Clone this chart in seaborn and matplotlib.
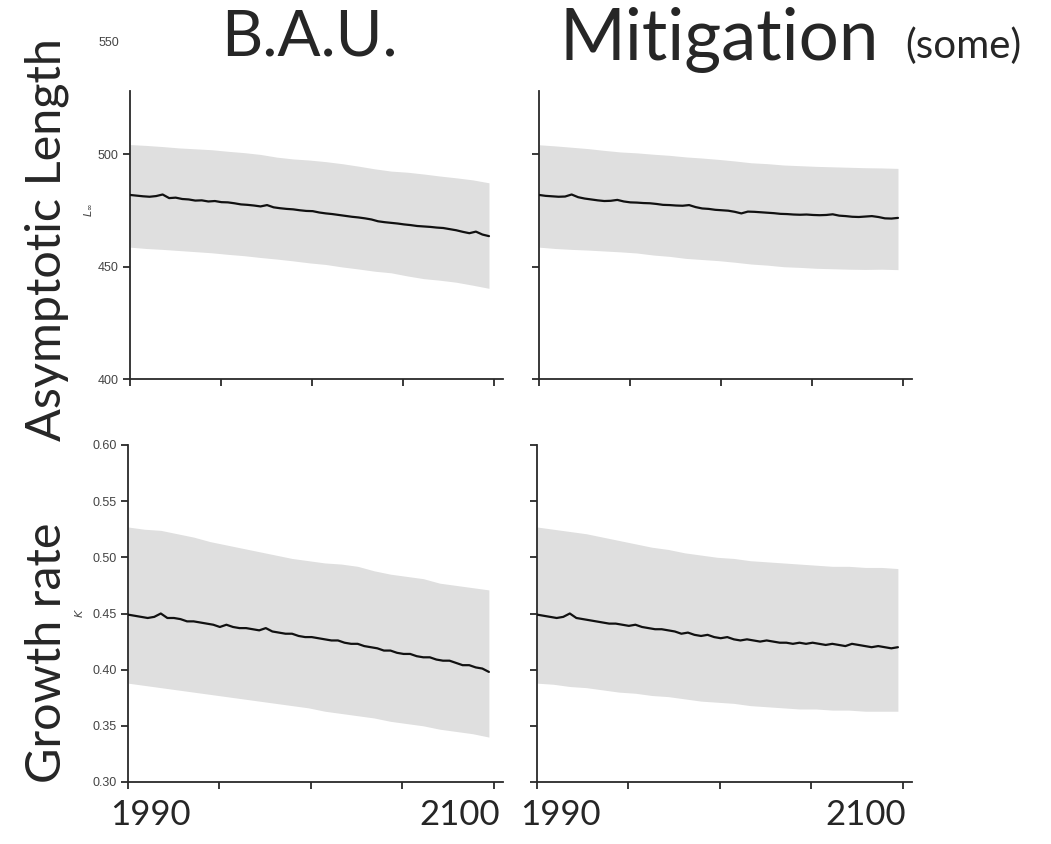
import numpy as np
import pandas as pd
import matplotlib
matplotlib.use("Agg")
import matplotlib.pyplot as plt
import seaborn as sns

sns.set_theme(style="ticks")
plt.rcParams["font.family"] = ["Liberation Sans", "DejaVu Sans"]

# ---- data -------------------------------------------------------------
years_mean = np.arange(1990, 2101, 2)   # ensemble mean sampled every 2 years
years_band = np.arange(1990, 2101, 5)   # ensemble range sampled every 5 years

linf_bau_mean = [481.8, 481.5, 481.2, 481.0, 481.3, 482.0, 480.4, 480.6, 480.0, 479.8,
                 479.3, 479.4, 478.9, 479.1, 478.6, 478.5, 478.1, 477.6, 477.4, 477.1,
                 476.7, 477.3, 476.3, 475.9, 475.6, 475.4, 475.0, 474.7, 474.6, 474.0,
                 473.6, 473.3, 472.9, 472.5, 472.1, 471.8, 471.4, 470.9, 470.1, 469.7,
                 469.4, 469.1, 468.7, 468.4, 468.0, 467.8, 467.6, 467.3, 467.1, 466.6,
                 466.1, 465.4, 464.8, 465.5, 464.2, 463.5]
linf_bau_upper = [504.2, 503.8, 503.3, 502.7, 502.3, 501.9, 501.2, 500.6, 499.8, 498.6,
                  497.8, 497.3, 496.6, 495.7, 494.6, 493.4, 492.4, 491.9, 491.1, 490.2,
                  489.4, 488.5, 487.2]
linf_bau_lower = [458.6, 458.0, 457.6, 457.1, 456.6, 456.1, 455.4, 454.8, 454.0, 453.3,
                  452.5, 451.6, 450.9, 449.8, 448.9, 447.9, 447.2, 445.8, 444.6, 443.9,
                  443.0, 441.7, 440.3]

linf_mit_mean = [481.8, 481.4, 481.2, 481.0, 481.1, 482.0, 480.8, 480.2, 479.8, 479.4,
                 479.1, 479.2, 479.6, 478.9, 478.5, 478.4, 478.2, 478.1, 477.8, 477.4,
                 477.3, 477.1, 477.0, 477.3, 476.4, 475.8, 475.6, 475.2, 475.0, 474.8,
                 474.3, 473.6, 474.4, 474.3, 474.1, 473.9, 473.7, 473.4, 473.3, 473.1,
                 473.0, 473.1, 472.9, 472.8, 472.9, 473.2, 472.6, 472.4, 472.1, 472.0,
                 472.2, 472.4, 472.0, 471.4, 471.3, 471.6]
linf_mit_upper = [504.1, 503.6, 503.0, 502.4, 501.6, 500.9, 500.5, 499.9, 499.4, 498.7,
                  498.2, 497.6, 496.9, 496.1, 495.7, 495.1, 494.8, 494.5, 494.3, 494.1,
                  493.9, 493.8, 493.6]
linf_mit_lower = [458.6, 458.0, 457.6, 457.3, 456.9, 456.5, 456.0, 455.1, 454.5, 453.6,
                  453.1, 452.6, 451.9, 451.1, 450.6, 449.9, 449.6, 449.2, 449.0, 448.8,
                  448.7, 448.8, 448.6]

k_bau_mean = [0.449, 0.448, 0.447, 0.446, 0.447, 0.450, 0.446, 0.446, 0.445, 0.443,
              0.443, 0.442, 0.441, 0.440, 0.438, 0.440, 0.438, 0.437, 0.437, 0.436,
              0.435, 0.437, 0.434, 0.433, 0.432, 0.432, 0.430, 0.429, 0.429, 0.428,
              0.427, 0.426, 0.426, 0.424, 0.423, 0.423, 0.421, 0.420, 0.419, 0.417,
              0.417, 0.415, 0.414, 0.414, 0.412, 0.411, 0.411, 0.409, 0.408, 0.408,
              0.406, 0.404, 0.404, 0.402, 0.401, 0.398]
k_bau_upper = [0.527, 0.525, 0.524, 0.521, 0.518, 0.514, 0.511, 0.508, 0.505, 0.502,
               0.499, 0.497, 0.495, 0.494, 0.492, 0.488, 0.485, 0.483, 0.481, 0.477,
               0.475, 0.473, 0.471]
k_bau_lower = [0.388, 0.386, 0.384, 0.382, 0.380, 0.378, 0.376, 0.374, 0.372, 0.370,
               0.368, 0.366, 0.363, 0.361, 0.359, 0.357, 0.354, 0.352, 0.350, 0.347,
               0.345, 0.343, 0.340]

k_mit_mean = [0.449, 0.448, 0.447, 0.446, 0.447, 0.450, 0.446, 0.445, 0.444, 0.443,
              0.442, 0.441, 0.441, 0.440, 0.439, 0.440, 0.438, 0.437, 0.436, 0.436,
              0.435, 0.434, 0.432, 0.433, 0.431, 0.430, 0.431, 0.429, 0.428, 0.429,
              0.427, 0.426, 0.427, 0.426, 0.425, 0.426, 0.425, 0.424, 0.424, 0.423,
              0.424, 0.423, 0.424, 0.423, 0.422, 0.423, 0.422, 0.421, 0.423, 0.422,
              0.421, 0.420, 0.421, 0.420, 0.419, 0.420]
k_mit_upper = [0.527, 0.525, 0.523, 0.521, 0.518, 0.515, 0.512, 0.509, 0.507, 0.504,
               0.502, 0.500, 0.499, 0.497, 0.496, 0.495, 0.494, 0.493, 0.492, 0.492,
               0.491, 0.491, 0.490]
k_mit_lower = [0.388, 0.387, 0.385, 0.384, 0.382, 0.380, 0.379, 0.377, 0.376, 0.374,
               0.372, 0.371, 0.370, 0.368, 0.367, 0.366, 0.365, 0.365, 0.364, 0.364,
               0.363, 0.363, 0.363]

scenario_titles = ["B.A.U.", "Mitigation"]
row_titles = ["Asymptotic Length", "Growth rate"]
param_symbols = ["$L_\\infty$", "$K$"]
linf_ticks = [400, 450, 500, 550]
k_ticks = [0.30, 0.35, 0.40, 0.45, 0.50, 0.55, 0.60]
year_labels = ["1990", "2100"]

# ---- figure -------------------------------------------------------------
W, H = 1051, 844
fig = plt.figure(figsize=(W / 100, H / 100), dpi=100)


def px_rect(x0, x1, ytop, ybot):
    return [x0 / W, 1 - ybot / H, (x1 - x0) / W, (ybot - ytop) / H]


panels = {
    (0, 0): px_rect(130, 503, 41.5, 379),
    (0, 1): px_rect(539, 912, 41.5, 379),
    (1, 0): px_rect(128, 503, 445, 782),
    (1, 1): px_rect(537, 912, 445, 782),
}

series = {
    (0, 0): (linf_bau_mean, linf_bau_lower, linf_bau_upper),
    (0, 1): (linf_mit_mean, linf_mit_lower, linf_mit_upper),
    (1, 0): (k_bau_mean, k_bau_lower, k_bau_upper),
    (1, 1): (k_mit_mean, k_mit_lower, k_mit_upper),
}

spine_col = "#2a2a2a"
tick_col = "#444444"
xlim = (1990, 2104.3)
xticks = np.linspace(1990, 2101.5, 5)

for (r, c), rect in panels.items():
    ax = fig.add_axes(rect)
    mean, lower, upper = series[(r, c)]
    ax.fill_between(years_band, lower, upper, color="#dfdfdf", linewidth=0, zorder=1)
    df = pd.DataFrame({"year": years_mean, "value": mean})
    sns.lineplot(data=df, x="year", y="value", ax=ax, color="#111111",
                 linewidth=1.6, zorder=3)
    ax.set_xlim(*xlim)
    ax.set_xticks(xticks)
    ax.set_xticklabels([])
    ax.set_xlabel("")
    ax.set_ylabel("")
    sns.despine(ax=ax)
    for s in ("left", "bottom"):
        ax.spines[s].set_color(spine_col)
        ax.spines[s].set_linewidth(1.3)
    ax.tick_params(axis="both", direction="out", length=5, width=1.3,
                   color=spine_col, labelsize=9, labelcolor=tick_col, pad=3)
    if r == 0:
        ax.set_ylim(400, 550)
        ax.set_yticks(linf_ticks)
        ax.spines["left"].set_bounds(400, 528)
        ax.yaxis.get_major_ticks()[-1].tick1line.set_visible(False)
        if c == 1:
            ax.yaxis.get_major_ticks()[-1].set_visible(False)
    else:
        ax.set_ylim(0.30, 0.60)
        ax.set_yticks(k_ticks)
        ax.set_yticklabels([f"{v:.2f}" for v in k_ticks])
    if c == 1:
        ax.set_yticklabels([])

# small parameter symbols beside the left-hand axes
fig.text(88 / W, 1 - 210 / H, param_symbols[0], rotation=90, ha="center",
         va="center", fontsize=8, color=tick_col)
fig.text(79 / W, 1 - 613 / H, param_symbols[1], rotation=90, ha="center",
         va="center", fontsize=8, color=tick_col)

# ---- headline annotations ---------------------------------------------
big = ["Lato", "DejaVu Sans"]
fig.text(309 / W, 1 - 38 / H, scenario_titles[0], ha="center", va="center",
         fontsize=46, family=big)
fig.text(560 / W, 1 - 40 / H, scenario_titles[1], ha="left", va="center",
         fontsize=51, family=big)
fig.text(1021 / W, 1 - 46 / H, "(some)", ha="right", va="center",
         fontsize=29, family=big)
fig.text(47 / W, 1 - 240 / H, row_titles[0], rotation=90, ha="center", va="center",
         fontsize=35, family=big)
fig.text(47 / W, 1 - 653 / H, row_titles[1], rotation=90, ha="center", va="center",
         fontsize=35, family=big)
for x0, x1 in [(150, 460), (560, 866)]:
    fig.text(x0 / W, 1 - 815 / H, year_labels[0], ha="center", va="center",
             fontsize=25, family=big)
    fig.text(x1 / W, 1 - 815 / H, year_labels[1], ha="center", va="center",
             fontsize=25, family=big)

fig.savefig("out.png", dpi=100, facecolor="white")
